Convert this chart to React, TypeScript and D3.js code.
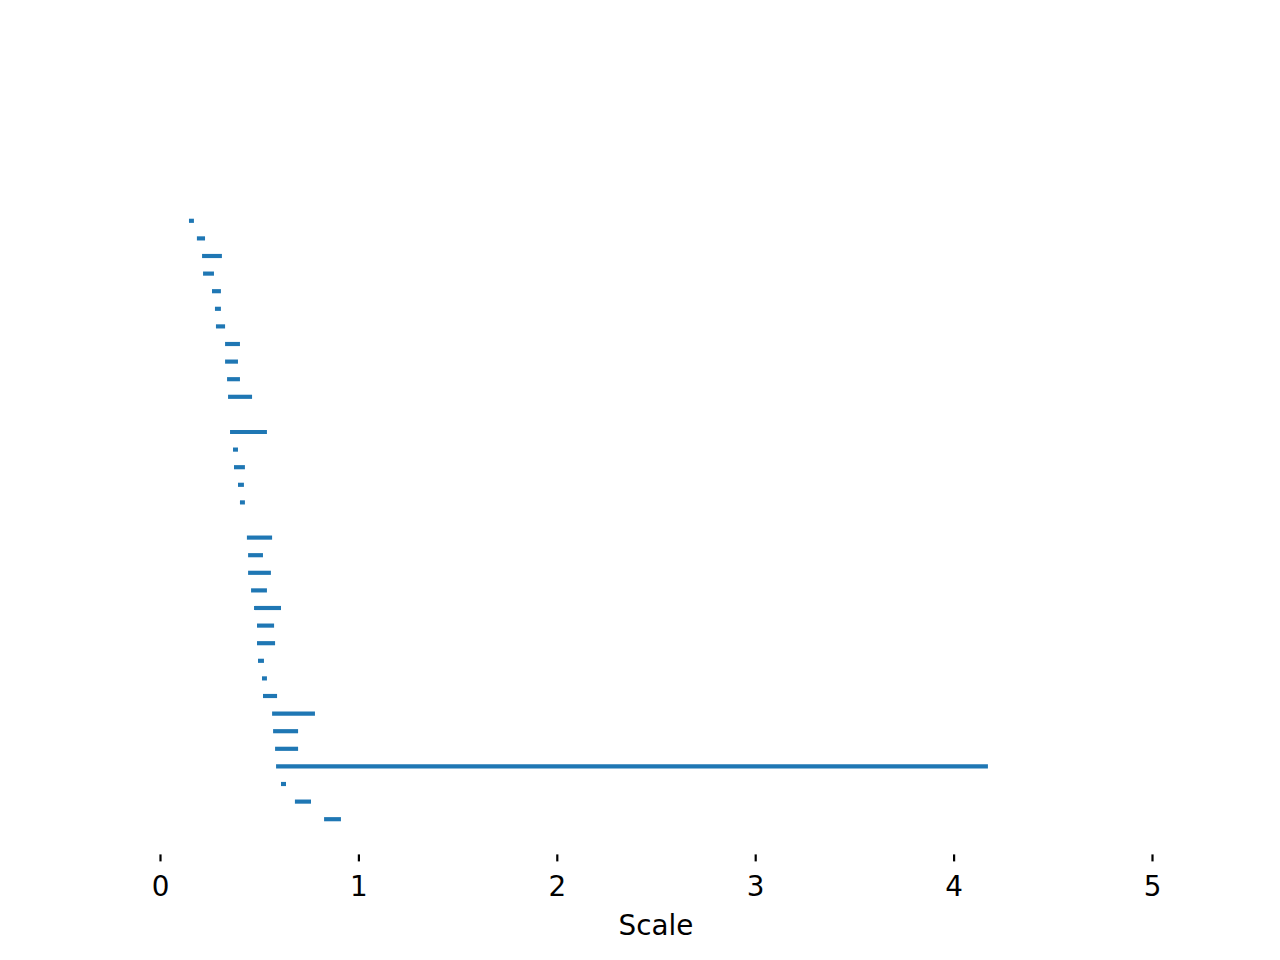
import React, { useEffect, useRef } from 'react';
import * as d3 from 'd3';

// row position (from top), lower and upper end of each segment
const rows = [0, 1, 2, 3, 4, 5, 6, 7, 8, 9, 10, 12, 13, 14, 15, 16, 18, 19, 20, 21, 22, 23, 24, 25, 26, 27, 28, 29, 30, 31, 32, 33, 34];
const lows = [0.146, 0.186, 0.212, 0.217, 0.262, 0.277, 0.282, 0.328, 0.328, 0.338, 0.343, 0.353, 0.368, 0.373, 0.393, 0.403, 0.438, 0.444, 0.444, 0.459, 0.474, 0.489, 0.489, 0.494, 0.514, 0.519, 0.565, 0.570, 0.580, 0.585, 0.610, 0.680, 0.827];
const highs = [0.171, 0.227, 0.312, 0.272, 0.307, 0.307, 0.328, 0.403, 0.393, 0.403, 0.464, 0.539, 0.393, 0.428, 0.423, 0.428, 0.565, 0.519, 0.559, 0.539, 0.610, 0.575, 0.580, 0.524, 0.539, 0.590, 0.781, 0.696, 0.696, 4.173, 0.635, 0.761, 0.912];
const xTicks = [0, 1, 2, 3, 4, 5];
const xLabel = 'Scale';

const App = () => {
  const svgRef = useRef<SVGSVGElement>(null);

  useEffect(() => {
    const svg = d3.select(svgRef.current);
    const width = 1280;
    const height = 960;
    const margin = { top: 115.2, right: 128, bottom: 105.6, left: 160 };

    svg.selectAll('*').remove();

    const x = d3.scaleLinear()
      .domain([0, 5])
      .range([margin.left, width - margin.right]);

    const y = d3.scaleLinear()
      .domain([-6, 36])
      .range([margin.top, height - margin.bottom]);

    const data = rows.map((r, i) => ({ r, lo: lows[i], hi: highs[i] }));

    svg.append('g')
      .selectAll('line')
      .data(data)
      .join('line')
        .attr('x1', d => x(d.lo))
        .attr('x2', d => x(d.hi))
        .attr('y1', d => y(d.r))
        .attr('y2', d => y(d.r))
        .attr('stroke', '#1f77b4')
        .attr('stroke-width', 4.17);

    const axis = svg.append('g')
      .attr('transform', `translate(0,${height - margin.bottom})`)
      .call(d3.axisBottom(x).tickValues(xTicks).tickFormat(d3.format('d')).tickSize(7).tickPadding(15));

    axis.select('.domain').remove();
    axis.selectAll('.tick line').attr('stroke', '#000').attr('stroke-width', 2.2);
    axis.selectAll('.tick text')
      .attr('fill', '#000')
      .attr('font-family', 'DejaVu Sans')
      .attr('font-size', 27.8);

    svg.append('text')
      .attr('x', (margin.left + width - margin.right) / 2)
      .attr('y', 935)
      .attr('text-anchor', 'middle')
      .attr('font-family', 'DejaVu Sans')
      .attr('font-size', 27.8)
      .attr('fill', '#000')
      .text(xLabel);
  }, []);

  return (
    <svg
      ref={svgRef}
      width={1280}
      height={960}
      style={{ position: 'absolute', left: 0, top: 0, background: '#fff' }}
    />
  );
};

export default App;
